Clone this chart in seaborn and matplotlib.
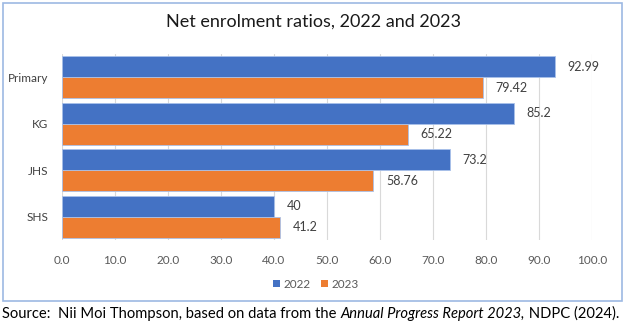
import matplotlib
matplotlib.use("Agg")
import matplotlib.pyplot as plt
import seaborn as sns
import pandas as pd
from matplotlib.patches import Rectangle, Patch

# Net enrolment ratios by education level
levels = ["Primary", "KG", "JHS", "SHS"]
ratios_2022 = [92.99, 85.2, 73.2, 40]
ratios_2023 = [79.42, 65.22, 58.76, 41.2]
years = ["2022", "2023"]
x_ticks = [0, 10, 20, 30, 40, 50, 60, 70, 80, 90, 100]

df = pd.DataFrame({
    "level": levels * 2,
    "year": [years[0]] * len(levels) + [years[1]] * len(levels),
    "ratio": ratios_2022 + ratios_2023,
})

colors = ["#4472C4", "#ED7D31"]
text_dark = "#404040"
tick_grey = "#595959"

sns.set_theme(style="white")
plt.rcParams["font.family"] = ["Lato", "DejaVu Sans"]

W, H = 625, 324
fig = plt.figure(figsize=(W / 100, H / 100), dpi=100)
fig.patch.set_facecolor("white")

# chart frame
fig.patches.append(Rectangle((3 / W, 1 - 301 / H), 619 / W, 298 / H,
                             transform=fig.transFigure, fill=False,
                             edgecolor="#9DB9E3", linewidth=1.2))

ax = fig.add_axes([62 / W, 1 - 240 / H, 530 / W, 186 / H])
sns.barplot(data=df, y="level", x="ratio", hue="year", orient="h",
            palette=colors, saturation=1, width=0.9, ax=ax,
            edgecolor="#A9C1EA", linewidth=0.6, legend=False)

ax.set_xlim(0, 100)
ax.set_xticks(x_ticks)
ax.set_xticklabels([f"{t:.1f}" for t in x_ticks])
ax.set_xlabel("")
ax.set_ylabel("")
ax.xaxis.grid(True, color="#D9D9D9", linewidth=0.8)
ax.set_axisbelow(True)
for s in ax.spines.values():
    s.set_visible(False)
ax.tick_params(axis="x", length=0, pad=11, labelsize=8.5, colors=tick_grey)
ax.tick_params(axis="y", length=0, pad=10, labelsize=8.5, colors=text_dark)

for cont in ax.containers:
    vals = [b.get_width() for b in cont]
    ax.bar_label(cont, labels=[f"{v:g}" for v in vals], padding=9,
                 fontsize=9, color=text_dark)

fig.text(313 / W, 1 - 22 / H, "Net enrolment ratios, 2022 and 2023",
         ha="center", va="center", fontsize=13, color="#1a1a1a")

handles = [Patch(facecolor=c, edgecolor="none") for c in colors]
fig.legend(handles, years, loc="center", bbox_to_anchor=(316 / W, 1 - 284 / H),
           ncol=2, frameon=False, fontsize=8.5, handlelength=0.6,
           handleheight=0.6, handletextpad=0.3, columnspacing=0.9,
           labelcolor=tick_grey)

# source line, with the report title in italics
src_y = 1 - 314 / H
src_size = 10.6
t1 = fig.text(2 / W, src_y, "Source:  Nii Moi Thompson, based on data from the ",
              ha="left", va="center", fontsize=src_size, color="black")
fig.canvas.draw()
bb = t1.get_window_extent()
t2 = fig.text(bb.x1 / W, src_y, "Annual Progress Report 2023,",
              ha="left", va="center", fontsize=src_size, style="italic",
              color="black")
bb2 = t2.get_window_extent()
fig.text(bb2.x1 / W, src_y, " NDPC (2024).",
         ha="left", va="center", fontsize=src_size, color="black")

fig.savefig("out.png", dpi=100)
